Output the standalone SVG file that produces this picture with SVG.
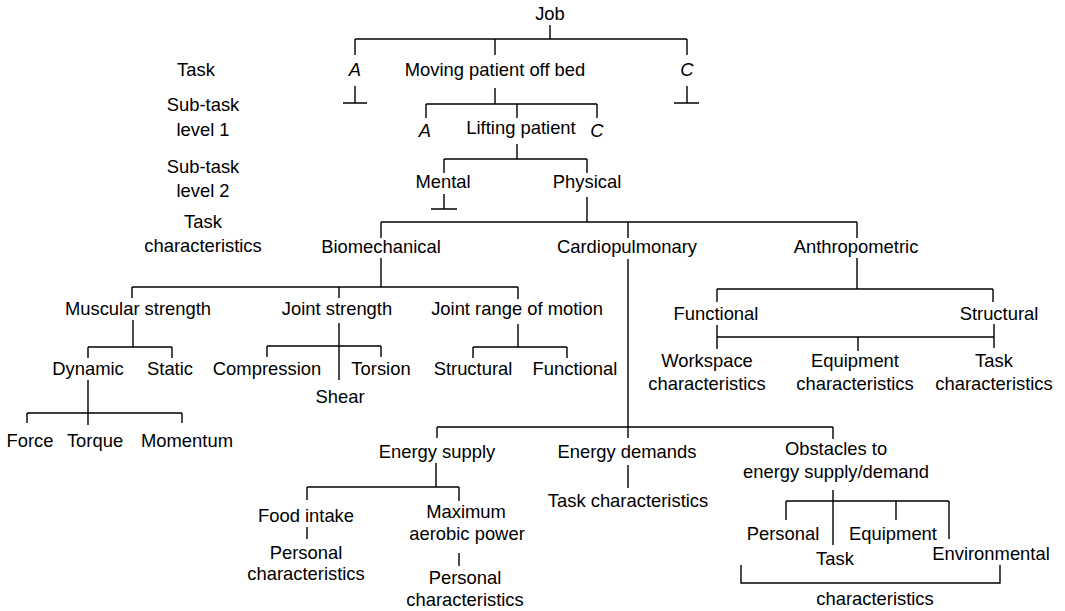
<svg xmlns="http://www.w3.org/2000/svg" width="1065" height="611" viewBox="0 0 1065 611">
<style>
text{font-family:"Liberation Sans",Arial,sans-serif;font-size:18.4px;fill:#000;text-anchor:middle}
.i{font-style:italic}
.c path{fill:none;stroke:#000;stroke-width:1.4}
</style>
<rect width="1065" height="611" fill="#fff"/>
<g id="labels">
<text x="196" y="76">Task</text>
<text x="203" y="111">Sub-task</text>
<text x="203" y="136">level 1</text>
<text x="203" y="173">Sub-task</text>
<text x="203" y="197">level 2</text>
<text x="203" y="228">Task</text>
<text x="203" y="252">characteristics</text>
</g>
<g class="c" id="connectors">
<path d="M550,25V39M355,39H687M355,39V55M495,39V55M687,39V55"/>
<path d="M355,86V103M343,103H367"/>
<path d="M687,86V103M674,103H699"/>
<path d="M495,88V104M426,104H597M426,104V118M517,104V118M597,104V118"/>
<path d="M517,144V159M444,159H587M444,159V173M587,159V173"/>
<path d="M444,194V209M431,209H457"/>
<path d="M587,197V222M381,222H857M381,222V238M628,222V238M857,222V238"/>
<path d="M381,258V287M132,287H518M132,287V298M339,287V298M518,287V299"/>
<path d="M133,320V347M88,347H172M88,347V358M172,347V358"/>
<path d="M88,380V425M27,413H182M27,413V423M182,413V423"/>
<path d="M339,323V380M267,346H381M267,346V357M381,346V357"/>
<path d="M518,324V347M473,347H567M473,347V358M567,347V358"/>
<path d="M628,259V438M437,427H833M437,427V438M833,427V439"/>
<path d="M436,463V487M307,487H459M307,487V500M459,487V501"/>
<path d="M307,527V539"/>
<path d="M459,553V566"/>
<path d="M628,465V488"/>
<path d="M833,490V545M786,501H949M786,501V520M896,501V520M949,501V539"/>
<path d="M741,565V583H1000V565"/>
<path d="M857,258V289M717,289H993M717,289V302M993,289V302"/>
<path d="M717,325V349M717,337H994M858,337V351M994,324V348"/>
</g>
<g id="job"><text x="550" y="20">Job</text></g>
<g id="task-a"><text class="i" x="355" y="76">A</text></g>
<g id="moving"><text x="495" y="76">Moving patient off bed</text></g>
<g id="task-c"><text class="i" x="687" y="76">C</text></g>
<g id="sub-a"><text class="i" x="425" y="137">A</text></g>
<g id="lifting"><text x="521" y="134">Lifting patient</text></g>
<g id="sub-c"><text class="i" x="597" y="137">C</text></g>
<g id="mental"><text x="443" y="188">Mental</text></g>
<g id="physical"><text x="587" y="188">Physical</text></g>
<g id="biomechanical"><text x="381" y="253">Biomechanical</text></g>
<g id="cardiopulmonary"><text x="627" y="253">Cardiopulmonary</text></g>
<g id="anthropometric"><text x="856" y="253">Anthropometric</text></g>
<g id="muscular"><text x="138" y="315">Muscular strength</text></g>
<g id="joint-strength"><text x="337" y="315">Joint strength</text></g>
<g id="jrom"><text x="517" y="315">Joint range of motion</text></g>
<g id="dynamic"><text x="88" y="375">Dynamic</text></g>
<g id="static"><text x="170" y="375">Static</text></g>
<g id="force"><text x="30" y="447">Force</text></g>
<g id="torque"><text x="95" y="447">Torque</text></g>
<g id="momentum"><text x="187" y="447">Momentum</text></g>
<g id="compression"><text x="267" y="375">Compression</text></g>
<g id="torsion"><text x="381" y="375">Torsion</text></g>
<g id="shear"><text x="340" y="403">Shear</text></g>
<g id="jrom-structural"><text x="473" y="375">Structural</text></g>
<g id="jrom-functional"><text x="575" y="375">Functional</text></g>
<g id="functional"><text x="716" y="320">Functional</text></g>
<g id="structural"><text x="999" y="320">Structural</text></g>
<g id="workspace"><text x="707" y="367">Workspace</text><text x="707" y="390">characteristics</text></g>
<g id="equipment-char"><text x="855" y="367">Equipment</text><text x="855" y="390">characteristics</text></g>
<g id="task-char-a"><text x="994" y="367">Task</text><text x="994" y="390">characteristics</text></g>
<g id="energy-supply"><text x="437" y="458">Energy supply</text></g>
<g id="energy-demands"><text x="627" y="458">Energy demands</text></g>
<g id="obstacles"><text x="836" y="455">Obstacles to</text><text x="836" y="478">energy supply/demand</text></g>
<g id="food"><text x="306" y="522">Food intake</text></g>
<g id="max-aerobic"><text x="466" y="518">Maximum</text><text x="467" y="540">aerobic power</text></g>
<g id="food-personal"><text x="306" y="559">Personal</text><text x="306" y="580">characteristics</text></g>
<g id="aerobic-personal"><text x="465" y="584">Personal</text><text x="465" y="606">characteristics</text></g>
<g id="task-char-e"><text x="628" y="507">Task characteristics</text></g>
<g id="personal"><text x="783" y="540">Personal</text></g>
<g id="equipment"><text x="893" y="540">Equipment</text></g>
<g id="task"><text x="835" y="565">Task</text></g>
<g id="environmental"><text x="991" y="560">Environmental</text></g>
<g id="characteristics"><text x="875" y="605">characteristics</text></g>
</svg>
